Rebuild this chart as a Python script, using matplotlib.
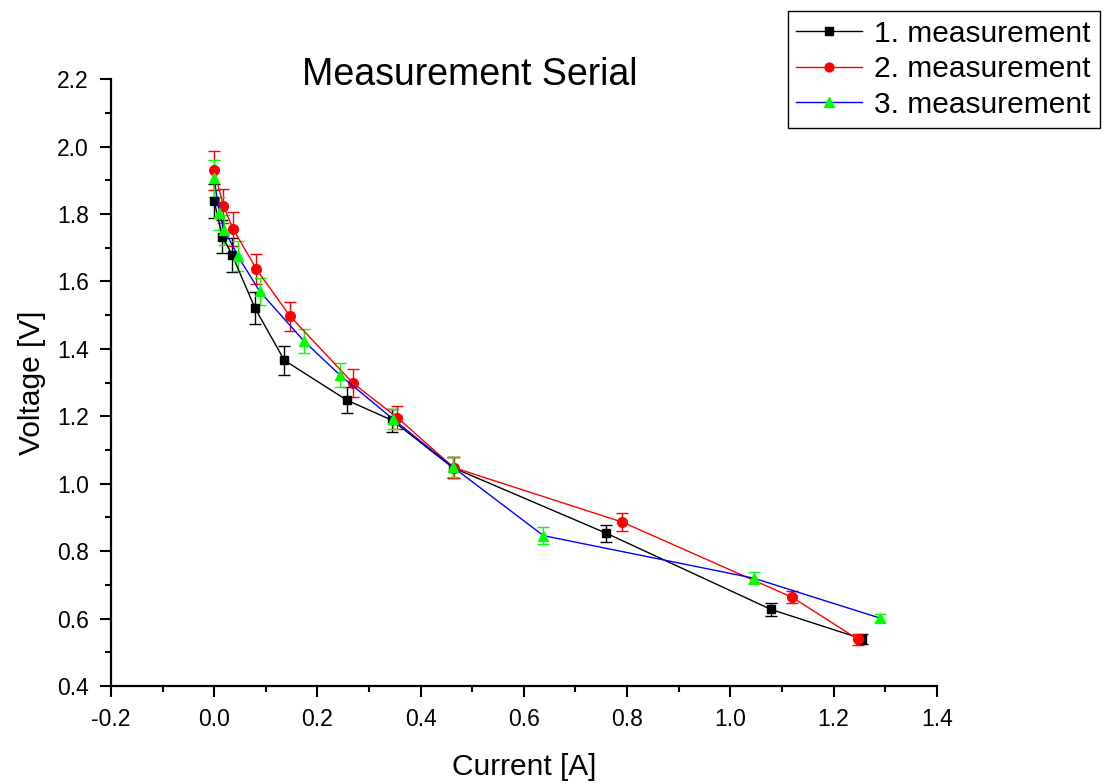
import matplotlib.pyplot as plt
from matplotlib.lines import Line2D
from matplotlib.ticker import MultipleLocator

plt.rcParams['font.family'] = ['Liberation Sans', 'DejaVu Sans']

#### Data ####

labels = ['1. measurement', '2. measurement', '3. measurement']

i1 = [0.0, 0.016, 0.035, 0.079, 0.136, 0.257, 0.345, 0.462, 0.760, 1.079, 1.255]
u1 = [1.838, 1.733, 1.678, 1.521, 1.366, 1.248, 1.188, 1.048, 0.853, 0.627, 0.540]
e1 = [0.05, 0.05, 0.05, 0.048, 0.043, 0.038, 0.035, 0.03, 0.025, 0.018, 0.015]

i2 = [0.0, 0.018, 0.037, 0.082, 0.147, 0.269, 0.355, 0.464, 0.791, 1.120, 1.248]
u2 = [1.930, 1.823, 1.755, 1.636, 1.497, 1.298, 1.196, 1.048, 0.886, 0.663, 0.538]
e2 = [0.058, 0.05, 0.05, 0.045, 0.043, 0.042, 0.035, 0.03, 0.027, 0.018, 0.015]

i3 = [0.0, 0.010, 0.020, 0.046, 0.088, 0.174, 0.244, 0.347, 0.462, 0.638, 1.045, 1.291]
u3 = [1.906, 1.802, 1.752, 1.675, 1.571, 1.423, 1.322, 1.191, 1.050, 0.846, 0.720, 0.601]
e3 = [0.055, 0.05, 0.045, 0.045, 0.04, 0.036, 0.036, 0.03, 0.03, 0.025, 0.018, 0.012]

#### Plot ####

fig = plt.figure(figsize=(11.04, 7.84), dpi=100)
ax = fig.add_axes([0.1005, 0.125, 0.748, 0.774])

styles = [
    dict(color='black', marker='s', ms=6, mc='black'),
    dict(color='red', marker='o', ms=7, mc='red'),
    dict(color='blue', marker='^', ms=7.5, mc='#00ff00'),
]
series = [(i1, u1, e1), (i2, u2, e2), (i3, u3, e3)]

handles = []
for (x, y, e), st, lab in zip(series, styles, labels):
    ax.errorbar(x, y, yerr=e, color=st['color'], lw=1.0, marker=st['marker'],
                ms=st['ms'], mfc=st['mc'], mec=st['mc'], ecolor=st['mc'],
                elinewidth=1.0, capsize=4.5, capthick=1.0)
    handles.append(Line2D([], [], color=st['color'], lw=1.0, marker=st['marker'],
                          ms=st['ms'] * 0.9, mfc=st['mc'], mec=st['mc'], label=lab))

ax.set_xlim(-0.2, 1.4)
ax.set_ylim(0.4, 2.2)
ax.xaxis.set_major_locator(MultipleLocator(0.2))
ax.xaxis.set_minor_locator(MultipleLocator(0.1))
ax.yaxis.set_major_locator(MultipleLocator(0.2))
ax.yaxis.set_minor_locator(MultipleLocator(0.1))
ax.xaxis.set_major_formatter(lambda v, p: f'{v:.1f}')
ax.yaxis.set_major_formatter(lambda v, p: f'{v:.1f}')

for s in ['top', 'right']:
    ax.spines[s].set_visible(False)
for s in ['left', 'bottom']:
    ax.spines[s].set_linewidth(1.6)
ax.tick_params(which='major', direction='out', length=8, width=1.5,
               labelsize=16.5, pad=8)
ax.tick_params(which='minor', direction='out', length=4.5, width=1.5)

ax.set_xlabel('Current [A]', fontsize=21.5, labelpad=16)
ax.set_ylabel('Voltage [V]', fontsize=21.5, labelpad=8)
ax.text(0.435, 0.99, 'Measurement Serial', transform=ax.transAxes,
        fontsize=27, ha='center', va='baseline')

leg = fig.legend(handles=handles, loc='upper right', bbox_to_anchor=(0.996, 0.986),
                 borderaxespad=0, fontsize=21.5, frameon=True, fancybox=False,
                 framealpha=1, edgecolor='black', handlelength=2.2, borderpad=0.3,
                 labelspacing=0.25, handletextpad=0.4)
leg.get_frame().set_linewidth(1.0)

plt.savefig('out.png', dpi=100)
